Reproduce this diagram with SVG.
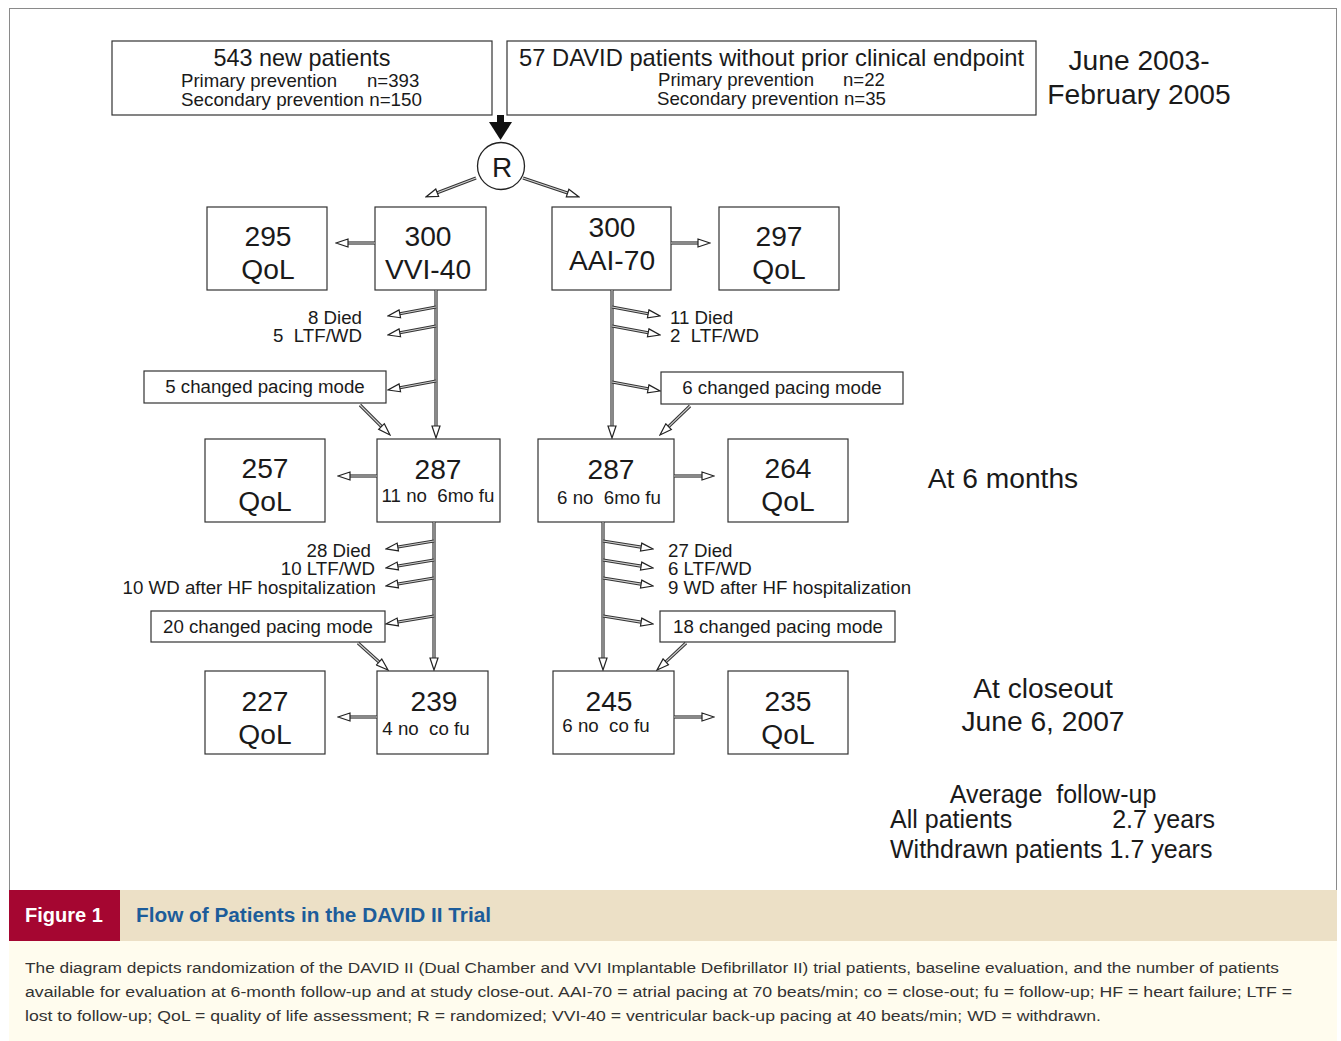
<svg xmlns="http://www.w3.org/2000/svg" width="1341" height="1041" viewBox="0 0 1341 1041">
<defs>
<marker id="h" markerUnits="userSpaceOnUse" viewBox="0 0 14 10" refX="1" refY="5" markerWidth="14" markerHeight="10" orient="auto">
<path d="M1,1 L13,5 L1,9 Z" fill="#fff" stroke="#222" stroke-width="1.2" stroke-linejoin="miter"/>
</marker>
<style>
.t{font-family:"Liberation Sans",Arial,sans-serif;fill:#1a1a1a;white-space:pre}
.box{fill:#fff;stroke:#333;stroke-width:1.2}
.big{font-size:28.2px;text-anchor:middle}
.mid{font-size:18.6px}
.sm{font-size:18.7px}
.avg{font-size:25px}
.sh{stroke:#333;stroke-width:3.2;fill:none}
.si{stroke:#d0d0d0;stroke-width:1.1;fill:none;marker-end:url(#h)}
.cap{font-family:"Liberation Sans",Arial,sans-serif;font-size:15.5px;fill:#333}
</style>
</defs>
<rect x="0" y="0" width="1341" height="1041" fill="#fff"/>
<rect x="9.5" y="8.5" width="1327" height="1040" fill="none" stroke="#8a8a8a" stroke-width="1"/>

<g id="n-new">
<rect class="box" x="112" y="41" width="380" height="74"/>
<text class="t" x="302" y="66" font-size="23.4" text-anchor="middle">543 new patients</text>
<text class="t mid" x="181" y="87">Primary prevention</text>
<text class="t mid" x="367" y="87">n=393</text>
<text class="t mid" x="181" y="106" textLength="241" lengthAdjust="spacingAndGlyphs">Secondary prevention n=150</text>
</g>
<g id="n-david">
<rect class="box" x="507" y="41" width="529" height="74"/>
<text class="t" x="519" y="66" font-size="23.4" textLength="505" lengthAdjust="spacingAndGlyphs">57 DAVID patients without prior clinical endpoint</text>
<text class="t mid" x="658" y="86">Primary prevention</text>
<text class="t mid" x="843" y="86">n=22</text>
<text class="t mid" x="657" y="105" textLength="229" lengthAdjust="spacingAndGlyphs">Secondary prevention n=35</text>
</g>
<g id="n-date">
<text class="t big" x="1139" y="70">June 2003-</text>
<text class="t big" x="1139" y="104">February 2005</text>
</g>
<g id="n-R">
<circle cx="501" cy="166" r="23.5" fill="#fff" stroke="#222" stroke-width="1.3"/>
<text class="t" x="502" y="177" font-size="28" text-anchor="middle">R</text>
</g>

<g id="n-295"><rect class="box" x="207" y="207" width="120" height="83"/>
<text class="t big" x="268" y="246">295</text><text class="t big" x="268" y="279">QoL</text></g>
<g id="n-vvi"><rect class="box" x="375" y="207" width="111" height="83"/>
<text class="t big" x="428" y="246">300</text><text class="t big" x="428" y="279">VVI-40</text></g>
<g id="n-aai"><rect class="box" x="552" y="207" width="119" height="83"/>
<text class="t big" x="612" y="237">300</text><text class="t big" x="612" y="270">AAI-70</text></g>
<g id="n-297"><rect class="box" x="719" y="207" width="120" height="83"/>
<text class="t big" x="779" y="246">297</text><text class="t big" x="779" y="279">QoL</text></g>

<g id="n-l1">
<text class="t sm" x="362" y="324" text-anchor="end">8 Died</text>
<text class="t sm" x="362" y="342" text-anchor="end">5  LTF/WD</text>
</g>
<g id="n-r1">
<text class="t sm" x="670" y="324">11 Died</text>
<text class="t sm" x="670" y="342">2  LTF/WD</text>
</g>
<g id="n-chg5"><rect class="box" x="144" y="371" width="242" height="32"/>
<text class="t sm" x="265" y="393" text-anchor="middle">5 changed pacing mode</text></g>
<g id="n-chg6"><rect class="box" x="661" y="372" width="242" height="32"/>
<text class="t sm" x="782" y="394" text-anchor="middle">6 changed pacing mode</text></g>

<g id="n-257"><rect class="box" x="205" y="439" width="120" height="83"/>
<text class="t big" x="265" y="478">257</text><text class="t big" x="265" y="511">QoL</text></g>
<g id="n-287l"><rect class="box" x="377" y="439" width="123" height="83"/>
<text class="t big" x="438" y="479">287</text><text class="t sm" x="438" y="502" text-anchor="middle">11 no  6mo fu</text></g>
<g id="n-287r"><rect class="box" x="538" y="439" width="136" height="83"/>
<text class="t big" x="611" y="479">287</text><text class="t sm" x="609" y="504" text-anchor="middle">6 no  6mo fu</text></g>
<g id="n-264"><rect class="box" x="728" y="439" width="120" height="83"/>
<text class="t big" x="788" y="478">264</text><text class="t big" x="788" y="511">QoL</text></g>
<g id="n-6mo"><text class="t big" x="1003" y="488">At 6 months</text></g>

<g id="n-l2">
<text class="t sm" x="371" y="557" text-anchor="end">28 Died</text>
<text class="t sm" x="375" y="575" text-anchor="end">10 LTF/WD</text>
<text class="t sm" x="376" y="594" text-anchor="end">10 WD after HF hospitalization</text>
</g>
<g id="n-r2">
<text class="t sm" x="668" y="557">27 Died</text>
<text class="t sm" x="668" y="575">6 LTF/WD</text>
<text class="t sm" x="668" y="594">9 WD after HF hospitalization</text>
</g>
<g id="n-chg20"><rect class="box" x="151" y="611" width="234" height="31"/>
<text class="t sm" x="268" y="633" text-anchor="middle">20 changed pacing mode</text></g>
<g id="n-chg18"><rect class="box" x="660" y="611" width="235" height="31"/>
<text class="t sm" x="778" y="633" text-anchor="middle">18 changed pacing mode</text></g>

<g id="n-227"><rect class="box" x="205" y="671" width="120" height="83"/>
<text class="t big" x="265" y="711">227</text><text class="t big" x="265" y="744">QoL</text></g>
<g id="n-239"><rect class="box" x="377" y="671" width="111" height="83"/>
<text class="t big" x="434" y="711">239</text><text class="t sm" x="426" y="735" text-anchor="middle">4 no  co fu</text></g>
<g id="n-245"><rect class="box" x="553" y="671" width="121" height="83"/>
<text class="t big" x="609" y="711">245</text><text class="t sm" x="606" y="732" text-anchor="middle">6 no  co fu</text></g>
<g id="n-235"><rect class="box" x="728" y="671" width="120" height="83"/>
<text class="t big" x="788" y="711">235</text><text class="t big" x="788" y="744">QoL</text></g>
<g id="n-close">
<text class="t big" x="1043" y="698">At closeout</text>
<text class="t big" x="1043" y="731">June 6, 2007</text>
</g>
<g id="n-avg">
<text class="t avg" x="1053" y="803" text-anchor="middle">Average  follow-up</text>
<text class="t avg" x="890" y="828">All patients</text>
<text class="t avg" x="1215" y="828" text-anchor="end">2.7 years</text>
<text class="t avg" x="890" y="858">Withdrawn patients 1.7 years</text>
</g>

<g id="connectors">
<rect x="497" y="115" width="7" height="8" fill="#111"/>
<path d="M489,122 L512,122 L500.5,140 Z" fill="#111"/>
<line class="sh" x1="476" y1="178" x2="437.2" y2="192.7"/><line class="si" x1="476" y1="178" x2="437.2" y2="192.7"/>
<line class="sh" x1="523" y1="178" x2="567.6" y2="193.1"/><line class="si" x1="523" y1="178" x2="567.6" y2="193.1"/>
<line class="sh" x1="375" y1="243" x2="348" y2="243"/><line class="si" x1="375" y1="243" x2="348" y2="243"/>
<line class="sh" x1="671" y1="243" x2="698" y2="243"/><line class="si" x1="671" y1="243" x2="698" y2="243"/>
<line class="sh" x1="436" y1="290" x2="436" y2="426"/><line class="si" x1="436" y1="290" x2="436" y2="426"/>
<line class="sh" x1="612" y1="290" x2="612" y2="426"/><line class="si" x1="612" y1="290" x2="612" y2="426"/>
<line class="sh" x1="436" y1="307" x2="399.8" y2="313.8"/><line class="si" x1="436" y1="307" x2="399.8" y2="313.8"/>
<line class="sh" x1="436" y1="326" x2="399.8" y2="332.8"/><line class="si" x1="436" y1="326" x2="399.8" y2="332.8"/>
<line class="sh" x1="436" y1="381" x2="399.8" y2="387.8"/><line class="si" x1="436" y1="381" x2="399.8" y2="387.8"/>
<line class="sh" x1="612" y1="307" x2="648.2" y2="313.8"/><line class="si" x1="612" y1="307" x2="648.2" y2="313.8"/>
<line class="sh" x1="612" y1="326" x2="648.2" y2="332.8"/><line class="si" x1="612" y1="326" x2="648.2" y2="332.8"/>
<line class="sh" x1="612" y1="382" x2="648.2" y2="388.8"/><line class="si" x1="612" y1="382" x2="648.2" y2="388.8"/>
<line class="sh" x1="360" y1="405" x2="381.5" y2="426.5"/><line class="si" x1="360" y1="405" x2="381.5" y2="426.5"/>
<line class="sh" x1="690" y1="406" x2="668.6" y2="426.7"/><line class="si" x1="690" y1="406" x2="668.6" y2="426.7"/>
<line class="sh" x1="377" y1="476" x2="350" y2="476"/><line class="si" x1="377" y1="476" x2="350" y2="476"/>
<line class="sh" x1="674" y1="476" x2="702" y2="476"/><line class="si" x1="674" y1="476" x2="702" y2="476"/>
<line class="sh" x1="434" y1="522" x2="434" y2="658"/><line class="si" x1="434" y1="522" x2="434" y2="658"/>
<line class="sh" x1="603" y1="522" x2="603" y2="658"/><line class="si" x1="603" y1="522" x2="603" y2="658"/>
<line class="sh" x1="434" y1="541" x2="397.8" y2="547"/><line class="si" x1="434" y1="541" x2="397.8" y2="547"/>
<line class="sh" x1="434" y1="560" x2="397.8" y2="566"/><line class="si" x1="434" y1="560" x2="397.8" y2="566"/>
<line class="sh" x1="434" y1="578" x2="397.8" y2="584"/><line class="si" x1="434" y1="578" x2="397.8" y2="584"/>
<line class="sh" x1="434" y1="616" x2="397.8" y2="622"/><line class="si" x1="434" y1="616" x2="397.8" y2="622"/>
<line class="sh" x1="603" y1="541" x2="641.1" y2="547.1"/><line class="si" x1="603" y1="541" x2="641.1" y2="547.1"/>
<line class="sh" x1="603" y1="560" x2="641.1" y2="566.1"/><line class="si" x1="603" y1="560" x2="641.1" y2="566.1"/>
<line class="sh" x1="603" y1="578" x2="641.1" y2="584.1"/><line class="si" x1="603" y1="578" x2="641.1" y2="584.1"/>
<line class="sh" x1="603" y1="616" x2="641.1" y2="622.1"/><line class="si" x1="603" y1="616" x2="641.1" y2="622.1"/>
<line class="sh" x1="358" y1="643" x2="379.1" y2="662"/><line class="si" x1="358" y1="643" x2="379.1" y2="662"/>
<line class="sh" x1="686" y1="643" x2="665.8" y2="661.8"/><line class="si" x1="686" y1="643" x2="665.8" y2="661.8"/>
<line class="sh" x1="377" y1="717" x2="350" y2="717"/><line class="si" x1="377" y1="717" x2="350" y2="717"/>
<line class="sh" x1="674" y1="717" x2="702" y2="717"/><line class="si" x1="674" y1="717" x2="702" y2="717"/>
</g>

<g id="caption">
<rect x="9" y="890" width="1328" height="51" fill="#ece0c6"/>
<rect x="9" y="890" width="111" height="51" fill="#a50631"/>
<rect x="9" y="941" width="1328" height="100" fill="#fffcee"/>
<text x="25" y="922" font-family="Liberation Sans,Arial,sans-serif" font-size="19.5" font-weight="bold" fill="#fff" textLength="78" lengthAdjust="spacingAndGlyphs">Figure 1</text>
<text x="136" y="922" font-family="Liberation Sans,Arial,sans-serif" font-size="19.5" font-weight="bold" fill="#1c5c9a" textLength="355" lengthAdjust="spacingAndGlyphs">Flow of Patients in the DAVID II Trial</text>
<text class="cap" x="25" y="973" textLength="1254" lengthAdjust="spacingAndGlyphs">The diagram depicts randomization of the DAVID II (Dual Chamber and VVI Implantable Defibrillator II) trial patients, baseline evaluation, and the number of patients</text>
<text class="cap" x="25" y="997" textLength="1267" lengthAdjust="spacingAndGlyphs">available for evaluation at 6-month follow-up and at study close-out. AAI-70 = atrial pacing at 70 beats/min; co = close-out; fu = follow-up; HF = heart failure; LTF =</text>
<text class="cap" x="25" y="1021" textLength="1076" lengthAdjust="spacingAndGlyphs">lost to follow-up; QoL = quality of life assessment; R = randomized; VVI-40 = ventricular back-up pacing at 40 beats/min; WD = withdrawn.</text>
</g>
</svg>
